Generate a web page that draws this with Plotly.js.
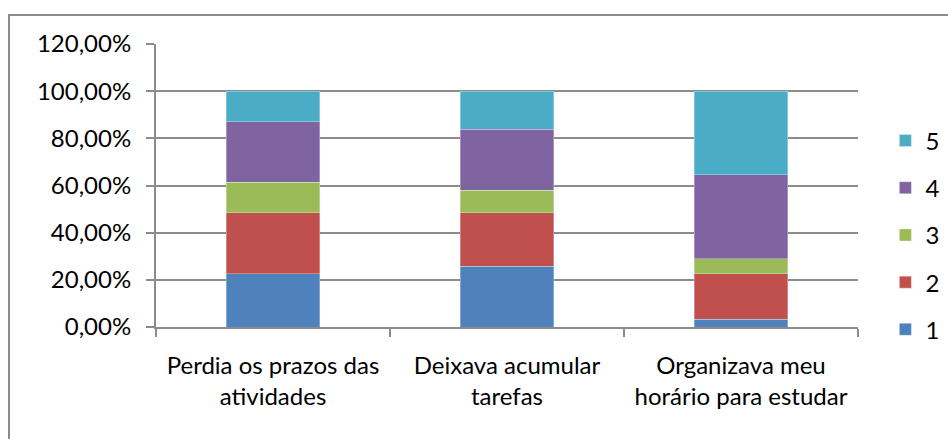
<!DOCTYPE html>
<html>
<head>
<meta charset="utf-8">
<script src="https://cdn.plot.ly/plotly-3.0.1.min.js"></script>
<style>html,body{margin:0;padding:0;background:#fff;}#chart{width:948px;height:439px;}</style>
</head>
<body>
<div id="chart"></div>
<script>
const categories = ["Perdia os prazos das<br>atividades", "Deixava acumular<br>tarefas", "Organizava meu<br>horário para estudar"];
const seriesNames = ["1", "2", "3", "4", "5"];
const s1 = [22.58, 25.81, 3.23];
const s2 = [25.81, 22.58, 19.35];
const s3 = [12.90, 9.68, 6.45];
const s4 = [25.81, 25.81, 35.48];
const s5 = [12.90, 16.13, 35.48];
const colors = ["#4F81BD", "#C0504D", "#9BBB59", "#8064A2", "#4BACC6"];
const yTicks = [0, 20, 40, 60, 80, 100, 120];
const yTickText = yTicks.map(v => v.toFixed(2).replace(".", ",") + "%");

const values = [s1, s2, s3, s4, s5];
const traces = values.map((v, i) => ({
  type: "bar",
  name: seriesNames[i],
  x: categories,
  y: v,
  legendgroup: "g" + i,
  legendrank: 100 - i,
  marker: {color: colors[i], line: {color: "rgba(255,255,255,0.6)", width: 0.5}},
  hoverinfo: "none"
}));

const layout = {
  width: 948, height: 439,
  margin: {l: 156, r: 90, t: 44, b: 112, autoexpand: false},
  barmode: "stack",
  bargap: 0.6,
  paper_bgcolor: "#fff",
  plot_bgcolor: "#fff",
  font: {family: "Lato, 'Open Sans', sans-serif", size: 24, color: "#000"},
  showlegend: true,
  legend: {
    x: 1.039, xanchor: "left", y: 0.737, yanchor: "top",
    traceorder: "grouped",
    tracegroupgap: 13,
    font: {size: 24},
    itemwidth: 30
  },
  xaxis: {
    type: "category",
    showgrid: false,
    showline: true, linecolor: "#8c8c8c", linewidth: 2,
    ticks: "outside", tickson: "boundaries", ticklen: 8, tickcolor: "#8c8c8c", tickwidth: 2,
    ticklabelstandoff: 16,
    tickfont: {size: 24}
  },
  yaxis: {
    range: [0, 120],
    tickvals: yTicks,
    ticktext: yTickText,
    showgrid: true, gridcolor: "#8c8c8c", gridwidth: 2,
    showline: true, linecolor: "#8c8c8c", linewidth: 2,
    ticks: "outside", ticklen: 8, tickcolor: "#8c8c8c", tickwidth: 2,
    ticklabelstandoff: 10,
    zeroline: false,
    tickfont: {size: 24}
  },
  shapes: [{
    type: "rect", xref: "paper", yref: "paper",
    x0: -0.2094, x1: 1.3, y0: -0.6, y1: 1.1025,
    line: {color: "#8c8c8c", width: 2}, fillcolor: "rgba(0,0,0,0)", layer: "below"
  }]
};

Plotly.newPlot("chart", traces, layout, {staticPlot: true});
</script>
</body>
</html>
